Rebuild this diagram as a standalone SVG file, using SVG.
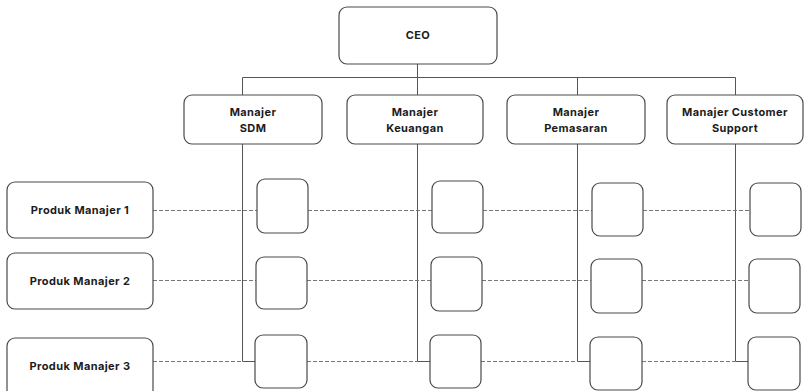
<svg xmlns="http://www.w3.org/2000/svg" width="806" height="391" viewBox="0 0 806 391">
  <style>
    .box { fill: #ffffff; stroke: #4a4a4a; stroke-width: 1.2; }
    .cell { fill: #ffffff; stroke: #4a4a4a; stroke-width: 1.2; }
    .lbl { font-family: Inter, "Noto Sans", "DejaVu Sans", sans-serif; font-weight: 700; font-size: 11px; fill: #1c1c1c; text-anchor: middle; letter-spacing: 0.4px; }
    .solid { fill: none; stroke: #555555; stroke-width: 1; }
    .dash { fill: none; stroke: #777777; stroke-width: 1.2; stroke-dasharray: 4 2; }
  </style>

  <rect width="806" height="391" fill="#ffffff"/>

  <!-- connectors -->
  <g id="connectors">
    <!-- hierarchy lines -->
    <path class="solid" d="M417.5 64 V95"/>
    <path class="solid" d="M242.5 77.5 H735.5"/>
    <path class="solid" d="M242.5 77.5 V95 M577.5 77.5 V95 M735.5 77.5 V95"/>
    <!-- column trunks down to row 3 -->
    <path class="solid" d="M242.5 144 V361.5 H255"/>
    <path class="solid" d="M417.5 144 V361.5 H430"/>
    <path class="solid" d="M577.5 144 V361.5 H590"/>
    <path class="solid" d="M735.5 144 V361.5 H748"/>
    <!-- row 1 -->
    <path class="dash" d="M153 210.5 H257 M308 210.5 H432 M483 210.5 H592 M643 210.5 H750"/>
    <!-- row 2 -->
    <path class="dash" d="M153 280.5 H256 M307 280.5 H431 M482 280.5 H591 M642 280.5 H749"/>
    <!-- row 3 -->
    <path class="dash" d="M153 361.5 H242 M307 361.5 H417 M481 361.5 H577 M642 361.5 H735"/>
  </g>

  <g id="ceo">
    <rect class="box" x="339" y="7" width="158" height="57" rx="8"/>
    <text class="lbl" x="418" y="39">CEO</text>
  </g>

  <g id="manajer-sdm">
    <rect class="box" x="184" y="95" width="138" height="49" rx="8"/>
    <text class="lbl" x="253" y="116">Manajer</text>
    <text class="lbl" x="253" y="132">SDM</text>
  </g>
  <g id="manajer-keuangan">
    <rect class="box" x="347" y="95" width="136" height="49" rx="8"/>
    <text class="lbl" x="415" y="116">Manajer</text>
    <text class="lbl" x="415" y="132">Keuangan</text>
  </g>
  <g id="manajer-pemasaran">
    <rect class="box" x="507" y="95" width="138" height="49" rx="8"/>
    <text class="lbl" x="576" y="116">Manajer</text>
    <text class="lbl" x="576" y="132">Pemasaran</text>
  </g>
  <g id="manajer-customer-support">
    <rect class="box" x="667" y="95" width="136" height="49" rx="8"/>
    <text class="lbl" x="735" y="116">Manajer Customer</text>
    <text class="lbl" x="735" y="132">Support</text>
  </g>

  <g id="produk-manajer-1">
    <rect class="box" x="7" y="182" width="146" height="56" rx="8"/>
    <text class="lbl" x="80" y="214">Produk Manajer 1</text>
  </g>
  <g id="produk-manajer-2">
    <rect class="box" x="7" y="253" width="146" height="56" rx="8"/>
    <text class="lbl" x="80" y="285">Produk Manajer 2</text>
  </g>
  <g id="produk-manajer-3">
    <rect class="box" x="7" y="338" width="146" height="60" rx="8"/>
    <text class="lbl" x="80" y="370">Produk Manajer 3</text>
  </g>

  <!-- matrix cells -->
  <g id="cell-1-1"><rect class="cell" x="257" y="179" width="51" height="54" rx="8"/></g>
  <g id="cell-1-2"><rect class="cell" x="432" y="181" width="51" height="52" rx="8"/></g>
  <g id="cell-1-3"><rect class="cell" x="592" y="183" width="51" height="53" rx="8"/></g>
  <g id="cell-1-4"><rect class="cell" x="750" y="183" width="51" height="53" rx="8"/></g>

  <g id="cell-2-1"><rect class="cell" x="256" y="257" width="51" height="52" rx="8"/></g>
  <g id="cell-2-2"><rect class="cell" x="431" y="257" width="51" height="54" rx="8"/></g>
  <g id="cell-2-3"><rect class="cell" x="591" y="259" width="51" height="54" rx="8"/></g>
  <g id="cell-2-4"><rect class="cell" x="749" y="259" width="51" height="54" rx="8"/></g>

  <g id="cell-3-1"><rect class="cell" x="255" y="335" width="52" height="53" rx="8"/></g>
  <g id="cell-3-2"><rect class="cell" x="430" y="335" width="51" height="53" rx="8"/></g>
  <g id="cell-3-3"><rect class="cell" x="590" y="337" width="52" height="53" rx="8"/></g>
  <g id="cell-3-4"><rect class="cell" x="748" y="337" width="52" height="53" rx="8"/></g>
</svg>
